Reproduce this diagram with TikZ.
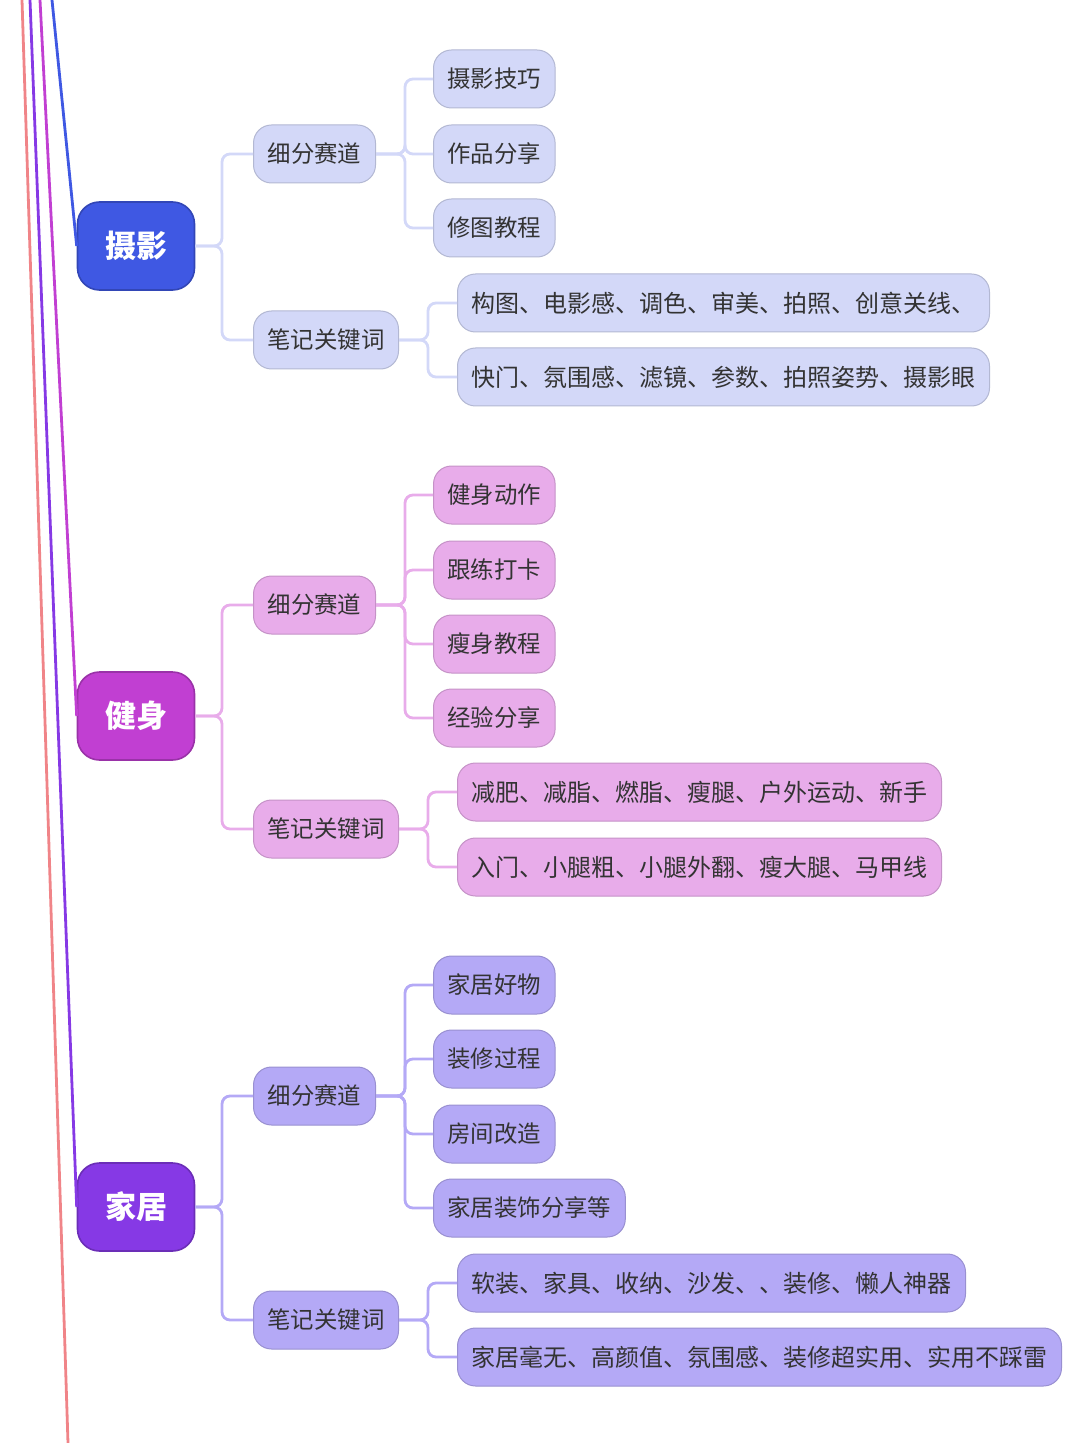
\documentclass[tikz,border=0pt]{standalone}
\usepackage{fontspec}
\setmainfont{Noto Sans CJK SC}
\usetikzlibrary{positioning,calc}
\definecolor{sheyingMain}{HTML}{3F58E3}
\definecolor{sheyingSub}{HTML}{D3D8F8}
\definecolor{jianshenMain}{HTML}{C13FD2}
\definecolor{jianshenSub}{HTML}{E8ACEA}
\definecolor{jiajuMain}{HTML}{8639E5}
\definecolor{jiajuSub}{HTML}{B4A9F6}
\definecolor{stemPink}{HTML}{F08488}
\begin{document}
\begin{tikzpicture}[x=0.5pt, y=-0.5pt,
  topic/.style={draw=#1!80!black, fill=#1, rounded corners=11pt, line width=0.8pt,
                minimum width=58.5pt, minimum height=44pt, text=white,
                font=\fontsize{15.5}{16}\selectfont\bfseries},
  sub/.style={draw=#1!85!black, fill=#1, rounded corners=9pt, line width=0.5pt,
              minimum height=29pt, inner xsep=7pt, anchor=west,
              font=\fontsize{11.7}{12}\selectfont, text=black!80},
  kw/.style={sub=#1, font=\fontsize{12}{12}\selectfont},
  link/.style={draw=#1, line width=1.4pt, rounded corners=4pt}
]
  \useasboundingbox (0,0) rectangle (1080,1443);

  % stems on the left
  \coordinate (stemA) at (22,0);   \coordinate (stemAend) at (68,1443);
  \coordinate (stemB) at (30,0);
  \coordinate (stemC) at (40,0);
  \coordinate (stemD) at (52,0);
  \draw[line width=1.4pt, stemPink] (stemA) -- (stemAend);

  % ---- 摄影 ----
  \node[topic=sheyingMain] (sy) at (136,246) {摄影};
  \draw[line width=1.4pt, sheyingMain] (stemD) -- (sy.west);
  \node[sub=sheyingSub, minimum width=61pt]   (sy1) at (253,154) {细分赛道};
  \node[sub=sheyingSub, minimum width=72.5pt] (sy2) at (253,340) {笔记关键词};
  \node[sub=sheyingSub] (sy11) at (433,79)  {摄影技巧};
  \node[sub=sheyingSub] (sy12) at (433,154) {作品分享};
  \node[sub=sheyingSub] (sy13) at (433,228) {修图教程};
  \node[kw=sheyingSub] (sy21) at (457,303) {构图、电影感、调色、审美、拍照、创意关线、};
  \node[kw=sheyingSub] (sy22) at (457,377) {快门、氛围感、滤镜、参数、拍照姿势、摄影眼};
  \foreach \c in {sy1,sy2}
    \draw[link=sheyingSub] (sy.east) -- (222,246) |- (\c.west);
  \foreach \c in {sy11,sy12,sy13}
    \draw[link=sheyingSub] (sy1.east) -- (405,154) |- (\c.west);
  \foreach \c in {sy21,sy22}
    \draw[link=sheyingSub] (sy2.east) -- (428,340) |- (\c.west);

  % ---- 健身 ----
  \node[topic=jianshenMain] (js) at (136,716) {健身};
  \draw[line width=1.4pt, jianshenMain] (stemC) -- (js.west);
  \node[sub=jianshenSub, minimum width=61pt]   (js1) at (253,605) {细分赛道};
  \node[sub=jianshenSub, minimum width=72.5pt] (js2) at (253,829) {笔记关键词};
  \node[sub=jianshenSub] (js11) at (433,495) {健身动作};
  \node[sub=jianshenSub] (js12) at (433,570) {跟练打卡};
  \node[sub=jianshenSub] (js13) at (433,644) {瘦身教程};
  \node[sub=jianshenSub] (js14) at (433,718) {经验分享};
  \node[kw=jianshenSub] (js21) at (457,792) {减肥、减脂、燃脂、瘦腿、户外运动、新手};
  \node[kw=jianshenSub] (js22) at (457,867) {入门、小腿粗、小腿外翻、瘦大腿、马甲线};
  \foreach \c in {js1,js2}
    \draw[link=jianshenSub] (js.east) -- (222,716) |- (\c.west);
  \foreach \c in {js11,js12,js13,js14}
    \draw[link=jianshenSub] (js1.east) -- (405,605) |- (\c.west);
  \foreach \c in {js21,js22}
    \draw[link=jianshenSub] (js2.east) -- (428,829) |- (\c.west);

  % ---- 家居 ----
  \node[topic=jiajuMain] (jj) at (136,1207) {家居};
  \draw[line width=1.4pt, jiajuMain] (stemB) -- (jj.west);
  \node[sub=jiajuSub, minimum width=61pt]   (jj1) at (253,1096) {细分赛道};
  \node[sub=jiajuSub, minimum width=72.5pt] (jj2) at (253,1320) {笔记关键词};
  \node[sub=jiajuSub] (jj11) at (433,985)  {家居好物};
  \node[sub=jiajuSub] (jj12) at (433,1059) {装修过程};
  \node[sub=jiajuSub] (jj13) at (433,1134) {房间改造};
  \node[sub=jiajuSub] (jj14) at (433,1208) {家居装饰分享等};
  \node[kw=jiajuSub] (jj21) at (457,1283) {软装、家具、收纳、沙发、、装修、懒人神器};
  \node[kw=jiajuSub] (jj22) at (457,1357) {家居毫无、高颜值、氛围感、装修超实用、实用不踩雷};
  \foreach \c in {jj1,jj2}
    \draw[link=jiajuSub] (jj.east) -- (222,1207) |- (\c.west);
  \foreach \c in {jj11,jj12,jj13,jj14}
    \draw[link=jiajuSub] (jj1.east) -- (405,1096) |- (\c.west);
  \foreach \c in {jj21,jj22}
    \draw[link=jiajuSub] (jj2.east) -- (428,1320) |- (\c.west);
\end{tikzpicture}
\end{document}
